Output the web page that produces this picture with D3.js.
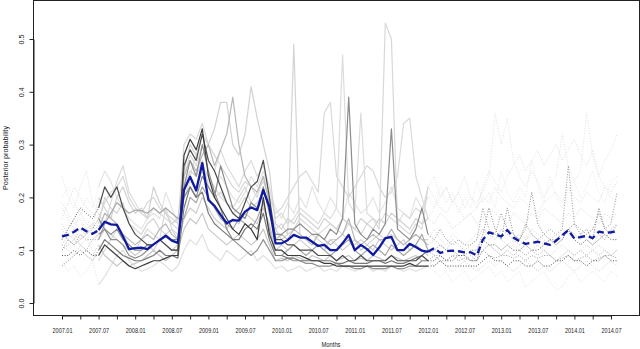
<!DOCTYPE html>
<html>
<head>
<meta charset="utf-8">
<script src="https://cdn.jsdelivr.net/npm/d3@7"></script>
<style>
  body { margin: 0; background: #fff; }
  text { font-family: "Liberation Sans", Arial, sans-serif; fill: #222; }
</style>
</head>
<body>
<div id="chart"></div>
<script>
// month index 0 = 2007.01, 91 = 2014.08
const tickLabels = ["2007.01", "2007.07", "2008.01", "2008.07", "2009.01", "2009.07", "2010.01", "2010.07",
  "2011.01", "2011.07", "2012.01", "2012.07", "2013.01", "2013.07", "2014.01", "2014.07"];
const yTicks = [0, 0.1, 0.2, 0.3, 0.4, 0.5];

// posterior mean (blue)
const meanProb = [
  .126, .129, .135, .143, .136, .131,
  .138, .154, .149, .148, .126, .102, .104, .105, .102, .111, .119, .127, .118, .114,
  .214, .239, .213, .265, .195, .184, .167, .151, .157, .156, .173, .181, .176, .214, .182,
  .113, .113, .119, .129, .124, .124, .116, .108, .110, .100, .100, .113, .129, .100, .110, .102, .091, .105, .123, .125, .100, .100, .112, .106, .099,
  .097, .104, .095, .098, .099, .098, .096, .096, .090, .120, .134, .130, .126, .138, .124, .117,
  .112, .114, .116, .113, .110, .118, .128, .138, .122, .125, .127, .123, .135, .133, .134, .136
];

// individual series (grey)
const g1 = [
  .09, .09, .10, .09, .10, .09,
  .09, .11, .10, .09, .08, .07, .065, .07, .075, .08, .08, .085, .09, .09,
  .28, .31, .29, .33, .24, .20, .18, .16, .14, .13, .15, .14, .12, .20, .13,
  .10, .10, .09, .09, .09, .085, .08, .08, .075, .075, .07, .07, .07, .07, .07, .07, .07, .07, .07, .07, .07, .07, .075, .07, .07,
  .07, .07, .08, .07, .07, .07, .07, .07, .07, .08, .09, .08, .08, .07, .08, .08,
  .07, .07, .08, .07, .07, .08, .08, .09, .08, .08, .07, .08, .08, .09, .08, .08
];
const g2 = [
  .12, .14, .16, .18, .17, .16,
  .18, .22, .20, .22, .18, .15, .13, .12, .11, .11, .12, .11, .10, .10,
  .26, .29, .27, .32, .27, .25, .22, .19, .17, .16, .19, .22, .23, .27, .20,
  .12, .12, .11, .11, .10, .10, .10, .09, .09, .09, .08, .09, .08, .08, .09, .08, .08, .08, .08, .09, .08, .08, .08, .08, .09,
  .08, .08, .09, .08, .08, .09, .09, .08, .08, .12, .11, .11, .10, .11, .10, .10,
  .11, .10, .10, .11, .12, .11, .12, .14, .12, .11, .12, .11, .12, .13, .12, .12
];
const g3 = [
  .10, .12, .11, .13, .12, .12,
  .13, .14, .13, .14, .12, .11, .10, .10, .11, .11, .12, .13, .12, .12,
  .20, .22, .20, .24, .22, .20, .26, .22, .18, .17, .16, .19, .18, .22, .17,
  .13, .13, .14, .14, .15, .14, .13, .13, .12, .14, .13, .16, .39, .15, .13, .12, .14, .13, .15, .33, .14, .13, .12, .14, .18,
  .13, .12, .14, .12, .11, .12, .11, .11, .12, .18, .14, .13, .17, .14, .13, .12,
  .15, .13, .12, .13, .14, .13, .14, .26, .15, .14, .13, .14, .17, .14, .15, .21
];
const g4 = [
  .07, .08, .09, .10, .09, .08,
  .10, .12, .11, .10, .09, .085, .08, .08, .085, .09, .10, .09, .09, .085,
  .18, .22, .20, .21, .17, .15, .14, .13, .12, .12, .14, .15, .14, .17, .12,
  .09, .09, .085, .085, .08, .08, .08, .08, .08, .08, .075, .075, .08, .075, .075, .075, .08, .08, .075, .08, .075, .075, .08, .085, .09,
  .10, .10, .11, .10, .10, .09, .09, .10, .10, .13, .18, .14, .12, .18, .13, .12,
  .14, .21, .15, .13, .12, .12, .13, .14, .15, .13, .14, .12, .18, .14, .13, .15
];
const g5 = [
  .19, .17, .15, .16, .14, .13,
  .15, .20, .18, .17, .19, .15, .14, .13, .15, .16, .14, .13, .14, .12,
  .22, .25, .24, .27, .22, .20, .21, .19, .17, .18, .20, .18, .19, .21, .18,
  .14, .12, .13, .49, .13, .12, .13, .12, .11, .12, .12, .13, .12, .11, .12, .11, .12, .13, .12, .13, .12, .11, .12, .13, .12,
  .12, .14, .12, .11, .13, .12, .11, .12, .13, .14, .12, .13, .12, .11, .12, .13,
  .12, .14, .13, .12, .11, .12, .14, .13, .12, .13, .12, .11, .13, .12, .14, .13
];
const g6 = [
  .16, .19, .22, .20, .18, .17,
  .16, .19, .21, .22, .24, .20, .18, .17, .19, .20, .18, .17, .16, .15,
  .30, .32, .31, .34, .30, .28, .26, .24, .22, .21, .23, .22, .20, .24, .19,
  .14, .15, .13, .14, .16, .15, .14, .13, .14, .15, .14, .13, .15, .14, .13, .15, .16, .14, .53, .50, .15, .14, .13, .15, .14,
  .22, .20, .18, .17, .19, .18, .16, .17, .18, .20, .19, .22, .20, .19, .18, .20,
  .19, .18, .17, .19, .20, .21, .19, .22, .20, .19, .21, .20, .19, .22, .21, .23
];
const g7 = [
  .24, .20, .18, .22, .25, .19,
  .17, .15, .19, .23, .26, .21, .19, .17, .16, .18, .17, .16, .15, .14,
  .24, .28, .26, .30, .27, .25, .29, .26, .24, .22, .25, .27, .24, .26, .22,
  .16, .17, .15, .16, .18, .17, .16, .15, .17, .16, .18, .47, .19, .17, .36, .17, .16, .15, .17, .16, .15, .17, .16, .18, .17,
  .22, .24, .20, .22, .19, .21, .18, .20, .19, .21, .24, .36, .30, .35, .27, .24,
  .22, .25, .23, .20, .22, .24, .32, .26, .23, .25, .36, .28, .24, .27, .29, .32
];
const g8 = [
  .18, .16, .14, .17, .15, .14,
  .20, .18, .16, .20, .22, .19, .17, .18, .16, .22, .19, .17, .15, .16,
  .25, .30, .28, .32, .30, .33, .38, .38, .30, .28, .32, .41, .35, .30, .25,
  .15, .14, .16, .15, .17, .16, .15, .14, .16, .15, .14, .16, .15, .14, .16, .15, .14, .16, .15, .17, .16, .15, .14, .16, .15,
  .16, .15, .17, .16, .14, .15, .16, .17, .15, .16, .18, .17, .16, .15, .17, .16,
  .15, .17, .16, .18, .17, .16, .15, .17, .16, .18, .17, .16, .15, .17, .16, .17
];
const g9 = [
  .14, .12, .13, .11, .12, .10,
  .08, .10, .12, .14, .13, .11, .10, .12, .14, .13, .12, .18, .14, .13,
  .22, .24, .28, .26, .24, .22, .20, .19, .18, .20, .22, .19, .21, .23, .20,
  .17, .18, .20, .22, .24, .25, .23, .21, .36, .38, .24, .22, .20, .22, .24, .26, .25, .22, .20, .21, .24, .34, .35, .24, .20,
  .16, .18, .20, .22, .19, .21, .24, .20, .18, .22, .25, .23, .21, .24, .26, .28,
  .25, .27, .29, .26, .28, .30, .27, .29, .31, .28, .26, .29, .24, .22, .20, .19
];
const g10 = [
  .11, .13, .12, .14, .13, .15,
  .14, .17, .16, .15, .13, .12, .11, .12, .13, .12, .14, .15, .13, .12,
  .24, .27, .25, .28, .30, .26, .29, .32, .39, .30, .24, .22, .21, .24, .19,
  .12, .13, .12, .14, .13, .12, .11, .13, .12, .11, .12, .13, .16, .12, .11, .12, .13, .12, .12, .14, .12, .11, .12, .13, .12,
  .11, .12, .11, .10, .12, .11, .10, .11, .12, .14, .13, .12, .14, .13, .12, .11,
  .12, .13, .12, .11, .12, .13, .12, .14, .13, .12, .13, .14, .13, .12, .14, .15
];
const g11 = [
  .08, .06, .07, .05, .06, .08,
  .035, .05, .07, .09, .10, .08, .07, .06, .065, .07, .08, .07, .06, .07,
  .10, .12, .11, .13, .10, .09, .08, .10, .09, .08, .09, .10, .08, .09, .08,
  .065, .07, .06, .065, .07, .06, .065, .07, .06, .065, .06, .07, .065, .06, .065, .07, .06, .065, .06, .07, .065, .06, .065, .06, .065,
  .07, .06, .05, .06, .04, .05, .06, .04, .05, .06, .07, .05, .06, .04, .05, .06,
  .03, .04, .05, .06, .04, .025, .03, .05, .06, .04, .05, .06, .05, .04, .06, .05
];
const g12 = [
  .15, .13, .14, .12, .14, .15,
  .12, .14, .13, .12, .11, .10, .09, .10, .11, .10, .12, .11, .10, .11,
  .16, .18, .17, .20, .18, .16, .15, .14, .16, .15, .17, .16, .15, .18, .15,
  .10, .11, .10, .11, .12, .11, .10, .11, .10, .12, .11, .10, .11, .12, .10, .11, .10, .12, .11, .10, .11, .12, .10, .11, .10,
  .09, .10, .09, .08, .09, .10, .09, .08, .09, .10, .11, .10, .09, .10, .11, .10,
  .09, .10, .11, .10, .09, .10, .11, .10, .09, .10, .11, .10, .11, .10, .09, .10
];
const g13 = [
  .10, .11, .12, .11, .10, .12,
  .12, .15, .17, .19, .18, .17, .176, .175, .17, .18, .17, .18, .17, .16,
  .16, .20, .19, .22, .20, .18, .16, .15, .14, .16, .15, .14, .16, .19, .14,
  .09, .09, .10, .11, .10, .09, .10, .11, .10, .09, .10, .11, .12, .10, .09, .10, .11, .10, .09, .11, .10, .09, .10, .11, .13,
  .10, .09, .09, .08, .09, .09, .08, .09, .08, .10, .11, .10, .09, .10, .09, .10,
  .09, .10, .09, .10, .09, .08, .09, .10, .09, .10, .09, .10, .09, .10, .09, .10
];
const g14 = [
  .20, .22, .19, .17, .20, .18,
  .22, .25, .23, .20, .18, .16, .15, .14, .16, .17, .16, .21, .18, .15,
  .20, .23, .22, .25, .23, .21, .24, .22, .20, .19, .21, .24, .22, .25, .21,
  .18, .16, .19, .17, .20, .18, .22, .19, .17, .20, .18, .16, .21, .19, .17, .18, .20, .17, .19, .22, .18, .17, .16, .20, .18,
  .20, .18, .22, .19, .21, .17, .20, .18, .23, .19, .21, .18, .25, .21, .19, .22,
  .20, .27, .22, .19, .24, .20, .18, .21, .23, .20, .22, .25, .21, .19, .23, .24
];
const g15 = [
  .11, .10, .09, .11, .10, .09,
  .11, .09, .08, .07, .08, .07, .075, .08, .09, .10, .09, .08, .09, .10,
  .14, .16, .15, .17, .14, .13, .12, .11, .12, .13, .12, .11, .12, .14, .11,
  .08, .085, .08, .09, .085, .08, .09, .085, .08, .09, .08, .085, .09, .08, .085, .08, .09, .085, .08, .09, .085, .08, .085, .09, .08,
  .08, .07, .08, .07, .06, .07, .08, .07, .06, .07, .08, .07, .08, .07, .06, .07,
  .08, .07, .06, .07, .06, .07, .08, .07, .06, .07, .08, .07, .06, .07, .08, .07
];
const g16 = [
  .13, .12, .11, .12, .13, .14,
  .16, .14, .12, .12, .11, .09, .085, .09, .10, .11, .12, .11, .10, .10,
  .22, .27, .24, .30, .25, .21, .18, .14, .12, .11, .10, .09, .10, .12, .10,
  .08, .08, .085, .08, .08, .075, .075, .07, .07, .07, .075, .07, .07, .065, .065, .07, .065, .065, .065, .07, .065, .065, .07, .07, .08,
  .08, .09, .08, .08, .09, .08, .085, .08, .08, .10, .09, .085, .09, .09, .085, .09,
  .08, .09, .085, .09, .09, .08, .085, .09, .08, .085, .09, .08, .085, .09, .09, .085
];

// drawn light first, dark last
const greySeries = [g14, g11, g7, g6, g9, g5, g8, g12, g15, g10, g13, g16, g3, g4, g2, g1];
const greyColors = ["#e4e4e4", "#e0e0e0", "#dcdcdc", "#d8d8d8", "#dadada", "#d4d4d4", "#d2d2d2", "#cfcfcf",
  "#c8c8c8", "#b8b8b8", "#a8a8a8", "#909090", "#8c8c8c", "#7a7a7a", "#4c4c4c", "#3c3c3c"];

const W = 640, H = 349;
const frame = { left: 33.5, top: 0.5, right: 639.5, bottom: 315.5 };

const x = d3.scaleLinear().domain([0, 90]).range([62, 611]);
const y = d3.scaleLinear().domain([0, 0.5]).range([303, 39]);

const svg = d3.select("#chart").append("svg")
  .attr("width", W)
  .attr("height", H);

const line = d3.line()
  .x(d => x(d.i))
  .y(d => y(d.v));

// split a series into dotted start, solid middle, dotted end
function pieces(vals) {
  const pts = vals.map((v, i) => ({ i, v }));
  return [
    { pts: pts.slice(0, 7), dotted: true },
    { pts: pts.slice(6, 61), dotted: false },
    { pts: pts.slice(60), dotted: true }
  ];
}

const plot = svg.append("g");

greySeries.forEach((s, k) => {
  plot.selectAll(null)
    .data(pieces(s))
    .enter()
    .append("path")
    .attr("d", d => line(d.pts))
    .attr("fill", "none")
    .attr("stroke", greyColors[k])
    .attr("stroke-width", d => d.dotted ? 0.9 : 1.2)
    .attr("stroke-dasharray", d => d.dotted ? "1,1.6" : null)
    .attr("stroke-linejoin", "round");
});

plot.selectAll(null)
  .data(pieces(meanProb))
  .enter()
  .append("path")
  .attr("d", d => line(d.pts))
  .attr("fill", "none")
  .attr("stroke", "#0f1aa0")
  .attr("stroke-width", 2.3)
  .attr("stroke-dasharray", d => d.dotted ? "7,4" : null)
  .attr("stroke-linejoin", "round");

// box
svg.append("rect")
  .attr("x", frame.left)
  .attr("y", frame.top)
  .attr("width", frame.right - frame.left)
  .attr("height", frame.bottom - frame.top)
  .attr("fill", "none")
  .attr("stroke", "#222")
  .attr("stroke-width", 1);

// x axis
const xAxis = d3.axisBottom(x)
  .tickValues(d3.range(0, 91, 3))
  .tickSize(4)
  .tickSizeOuter(0)
  .tickFormat(d => d % 6 === 0 ? tickLabels[d / 6] : "");

const gx = svg.append("g")
  .attr("transform", `translate(0,${frame.bottom})`)
  .call(xAxis);
gx.select(".domain").attr("stroke", "#222");
gx.selectAll(".tick line").attr("stroke", "#222");
gx.selectAll(".tick text")
  .attr("y", 12)
  .attr("font-size", 8)
  .attr("font-family", null)
  .attr("fill", "#222")
  .filter(d => d % 6 === 0)
  .attr("textLength", 20)
  .attr("lengthAdjust", "spacingAndGlyphs");

// y axis
const yAxis = d3.axisLeft(y)
  .tickValues(yTicks)
  .tickSize(4)
  .tickSizeOuter(0)
  .tickFormat(d3.format(".1f"));

const gy = svg.append("g")
  .attr("transform", `translate(${frame.left},0)`)
  .call(yAxis);
gy.select(".domain").attr("stroke", "#222");
gy.selectAll(".tick line").attr("stroke", "#222");
gy.selectAll(".tick text")
  .attr("x", null)
  .attr("dy", null)
  .attr("transform", "translate(-10,0) rotate(-90)")
  .attr("text-anchor", "middle")
  .attr("font-size", 8)
  .attr("font-family", null)
  .attr("fill", "#222")
  .attr("textLength", 10)
  .attr("lengthAdjust", "spacingAndGlyphs");

// axis titles
svg.append("text")
  .attr("x", 331)
  .attr("y", 347)
  .attr("text-anchor", "middle")
  .attr("font-size", 8)
  .attr("textLength", 19)
  .attr("lengthAdjust", "spacingAndGlyphs")
  .text("Months");

svg.append("text")
  .attr("transform", "translate(8,158) rotate(-90)")
  .attr("text-anchor", "middle")
  .attr("font-size", 8)
  .attr("textLength", 64)
  .attr("lengthAdjust", "spacingAndGlyphs")
  .text("Posterior probability");
</script>
</body>
</html>
